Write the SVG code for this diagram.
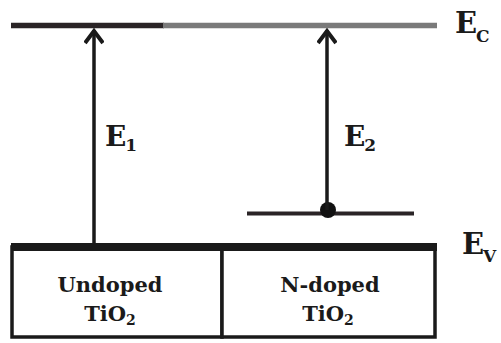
<svg xmlns="http://www.w3.org/2000/svg" width="501" height="343" viewBox="0 0 501 343">
<defs>
<style>
.t{font-family:"DejaVu Serif","Liberation Serif",serif;font-weight:bold;fill:#1a1a1a}
.box{fill:#fff;stroke:#1a1a1a;stroke-width:3.5}
.arr{stroke:#1a1a1a;stroke-width:3.5;fill:none}
.head{stroke:#1a1a1a;stroke-width:4;fill:none;stroke-linejoin:miter}
</style>
<marker id="ah" viewBox="0 0 20 20" refX="18" refY="10" markerWidth="20" markerHeight="20" markerUnits="userSpaceOnUse" orient="auto">
<path d="M5,1 L17,10 L5,19" class="head"/>
</marker>
</defs>
<rect width="501" height="343" fill="#fff"/>
<g id="undoped">
<rect class="box" x="12" y="247" width="210" height="90"/>
<text class="t" x="110" y="292" font-size="21" text-anchor="middle">Undoped</text>
<text class="t" x="110" y="321" font-size="21" text-anchor="middle">TiO<tspan font-size="14" dy="4">2</tspan></text>
</g>
<g id="ndoped">
<rect class="box" x="222" y="247" width="213" height="90"/>
<text class="t" x="330" y="292" font-size="21" text-anchor="middle">N-doped</text>
<text class="t" x="328" y="321" font-size="21" text-anchor="middle">TiO<tspan font-size="14" dy="4">2</tspan></text>
</g>
<g id="ec">
<line x1="11" y1="25.5" x2="164" y2="25.5" stroke="#2a2426" stroke-width="5.5"/>
<line x1="163" y1="25.5" x2="437" y2="25.5" stroke="#7a7a7a" stroke-width="5.5"/>
<text class="t" x="455" y="33" font-size="29">E<tspan font-size="17" dx="-1" dy="9">C</tspan></text>
</g>
<g id="ev">
<line x1="11" y1="247" x2="437" y2="247" stroke="#1a1a1a" stroke-width="8"/>
<text class="t" x="462" y="254" font-size="29">E<tspan font-size="17" dx="-1" dy="8">V</tspan></text>
</g>
<g id="defect">
<line x1="247" y1="213.5" x2="414" y2="213.5" stroke="#2a2426" stroke-width="4"/>
<circle cx="328" cy="210" r="8" fill="#111"/>
</g>
<g id="connectors">
<line class="arr" x1="94" y1="243" x2="94" y2="30" marker-end="url(#ah)"/>
<line class="arr" x1="327" y1="210" x2="327" y2="30" marker-end="url(#ah)"/>
</g>
<g id="labels">
<text class="t" x="105" y="146" font-size="28">E<tspan font-size="17" dx="-1" dy="5">1</tspan></text>
<text class="t" x="344" y="146" font-size="28">E<tspan font-size="17" dx="-1" dy="5">2</tspan></text>
</g>
</svg>
